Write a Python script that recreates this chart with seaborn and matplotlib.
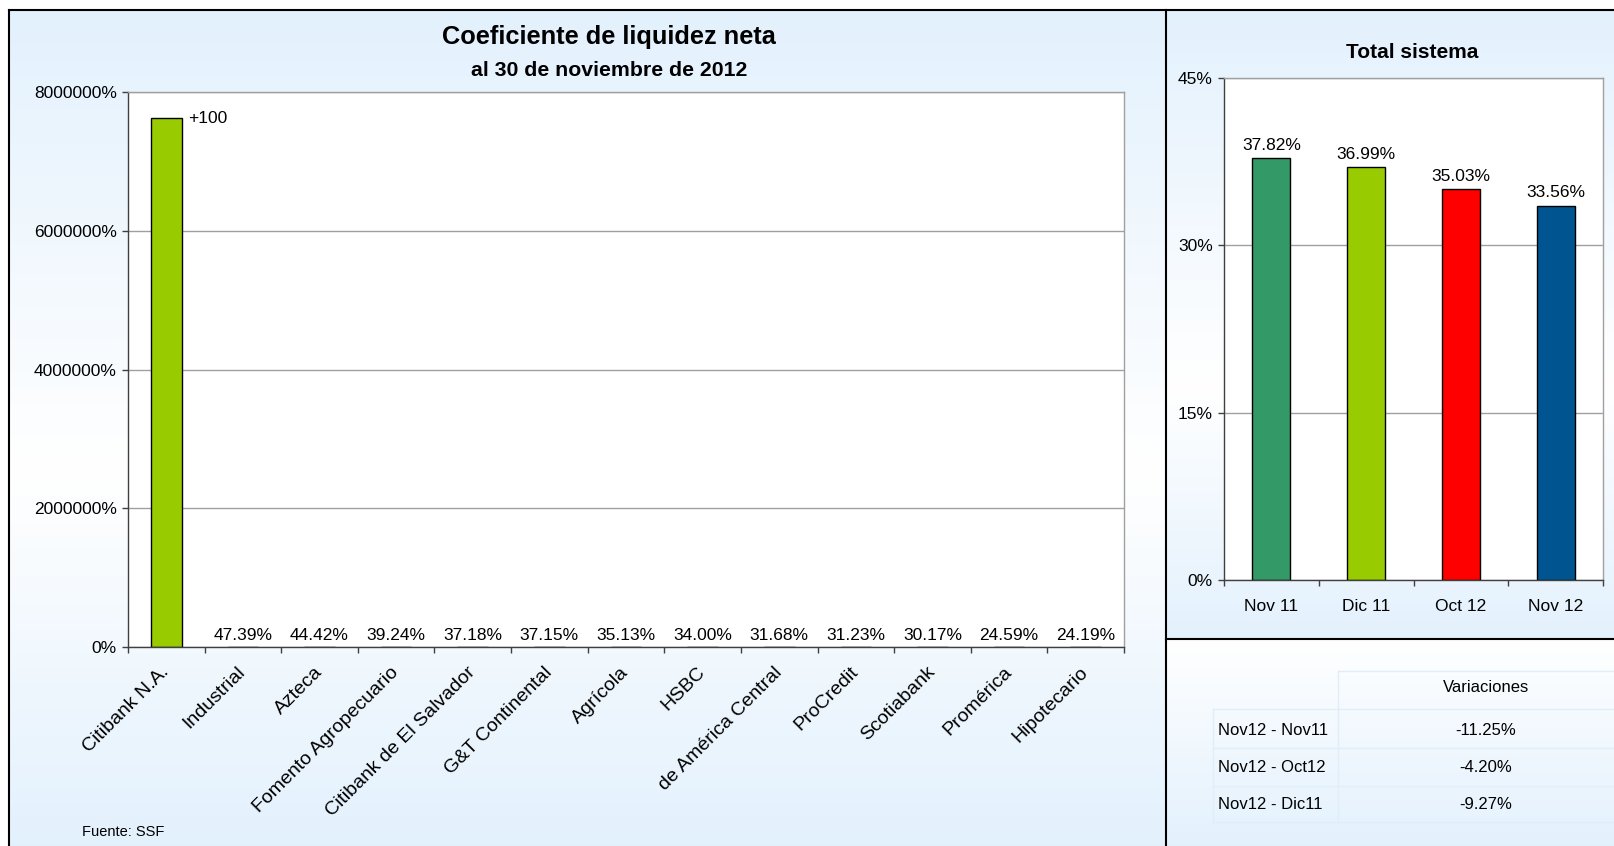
import matplotlib
matplotlib.use('Agg')
import matplotlib.pyplot as plt
import matplotlib.transforms as mtransforms
import seaborn as sns
import pandas as pd
import numpy as np

# data
banks = ['Citibank N.A.', 'Industrial', 'Azteca', 'Fomento Agropecuario',
         'Citibank de El Salvador', 'G&T Continental', 'Agrícola', 'HSBC',
         'de América Central', 'ProCredit', 'Scotiabank', 'Promérica', 'Hipotecario']
coef = [7625000.0, 47.39, 44.42, 39.24, 37.18, 37.15, 35.13, 34.00,
        31.68, 31.23, 30.17, 24.59, 24.19]
coef_labels = ['+100', '47.39%', '44.42%', '39.24%', '37.18%', '37.15%', '35.13%',
               '34.00%', '31.68%', '31.23%', '30.17%', '24.59%', '24.19%']

periods = ['Nov 11', 'Dic 11', 'Oct 12', 'Nov 12']
total = [37.82, 36.99, 35.03, 33.56]
period_colors = ['#339966', '#99CC00', '#FF0000', '#005591']

var_names = ['Nov12 - Nov11', 'Nov12 - Oct12', 'Nov12 - Dic11']
var_values = ['-11.25%', '-4.20%', '-9.27%']

plt.rcParams['font.family'] = ['Liberation Sans', 'DejaVu Sans']

W, H = 1614, 846
fig = plt.figure(figsize=(W / 100, H / 100), dpi=100)

# background panels with gradients (pixel coordinates)
bg = fig.add_axes([0, 0, 1, 1], zorder=-5)
bg.set_xlim(0, W)
bg.set_ylim(H, 0)
bg.axis('off')

blue = np.array([0.890, 0.945, 0.992])
white = np.array([1.0, 1.0, 1.0])

def grad(pos, cols, n=300):
    t = np.linspace(0, 1, n)
    img = np.stack([np.interp(t, pos, [c[k] for c in cols]) for k in range(3)], axis=-1)
    return img[:, None, :]

bg.imshow(grad([0, 0.55, 1], [blue, white, blue]), extent=(9, 1166, 846, 10), aspect='auto')
bg.imshow(grad([0, 0.6, 1], [blue, white, blue]), extent=(1166, W, 639, 10), aspect='auto')
bg.imshow(grad([0, 1], [white, blue]), extent=(1166, W, 846, 639), aspect='auto')
bg.plot([9, W], [10, 10], color='black', lw=1.5)
bg.plot([9, 9], [10, H], color='black', lw=1.5)
bg.plot([1166, 1166], [10, H], color='black', lw=1.5)
bg.plot([1166, W], [639, 639], color='black', lw=1.5)

# table cell lines
cell = '#E0EEFA'
for y in [709, 748, 786, 822]:
    bg.plot([1213, W], [y, y], color=cell, lw=1)
bg.plot([1338, W], [671, 671], color=cell, lw=1)
bg.plot([1338, 1338], [671, 822], color=cell, lw=1)
bg.plot([1213, 1213], [709, 822], color=cell, lw=1)


def style_axes(ax):
    for s in ['left', 'bottom']:
        ax.spines[s].set_color('#404040')
    for s in ['top', 'right']:
        ax.spines[s].set_color('#A0A0A0')
    for s in ax.spines.values():
        s.set_linewidth(1)
    ax.set_facecolor('white')
    ax.grid(axis='y', color='#A0A0A0', lw=1)
    ax.set_axisbelow(True)
    ax.set_xlabel('')
    ax.set_ylabel('')
    ax.tick_params(axis='y', length=4, width=1, color='#404040', pad=4, labelsize=12.5)
    ax.tick_params(axis='x', which='major', length=0)
    ax.tick_params(axis='x', which='minor', length=4, width=1, color='#404040')


# left chart
df = pd.DataFrame({'banco': banks, 'coef': coef})
ax1 = fig.add_axes([128 / W, 1 - 647 / H, 996 / W, 555 / H])
sns.barplot(data=df, x='banco', y='coef', hue='banco', palette=['#99CC00'] * len(banks),
            saturation=1, width=0.4, edgecolor='black', linewidth=1, legend=False, ax=ax1)
style_axes(ax1)
ax1.set_xlim(-0.5, len(banks) - 0.5)
ax1.set_ylim(0, 8000000)
ax1.set_yticks([0, 2000000, 4000000, 6000000, 8000000])
ax1.set_yticklabels([f'{v:.0f}%' for v in ax1.get_yticks()])
ax1.set_xticks(np.arange(-0.5, len(banks), 1), minor=True)
ax1.set_xticks(range(len(banks)))
ax1.set_xticklabels(banks, rotation=45, ha='right', va='top',
                    rotation_mode='anchor', fontsize=14)
ax1.tick_params(axis='x', which='major', pad=12)
shift = mtransforms.ScaledTranslation(-6 / 100, 0, fig.dpi_scale_trans)
for lab in ax1.get_xticklabels():
    lab.set_transform(lab.get_transform() + shift)
for i, (v, lab) in enumerate(zip(coef, coef_labels)):
    if i == 0:
        ax1.annotate(lab, (i + 0.2, v), xytext=(5, 0), textcoords='offset points',
                     ha='left', va='center', fontsize=12.5)
    else:
        ax1.annotate(lab, (i, v), xytext=(0, 5), textcoords='offset points',
                     ha='center', va='baseline', fontsize=12.5)

fig.text(609 / W, 1 - 37 / H, 'Coeficiente de liquidez neta', ha='center', va='center',
         fontsize=18.3, fontweight='bold')
fig.text(609 / W, 1 - 70 / H, 'al 30 de noviembre de 2012', ha='center', va='center',
         fontsize=15.3, fontweight='bold')
fig.text(82 / W, 1 - 832 / H, 'Fuente: SSF', ha='left', va='center', fontsize=10.5)

# right chart
dt = pd.DataFrame({'periodo': periods, 'total': total})
ax2 = fig.add_axes([1224 / W, 1 - 580 / H, 379 / W, 502 / H])
sns.barplot(data=dt, x='periodo', y='total', hue='periodo', palette=period_colors,
            saturation=1, width=0.4, edgecolor='black', linewidth=1, legend=False, ax=ax2)
style_axes(ax2)
ax2.set_xlim(-0.5, len(periods) - 0.5)
ax2.set_ylim(0, 45)
ax2.set_yticks([0, 15, 30, 45])
ax2.set_yticklabels([f'{v:.0f}%' for v in ax2.get_yticks()])
ax2.set_xticks(np.arange(-0.5, len(periods), 1), minor=True)
ax2.set_xticks(range(len(periods)))
ax2.set_xticklabels(periods, fontsize=12.5)
ax2.tick_params(axis='x', which='major', pad=14)
for i, v in enumerate(total):
    ax2.annotate(f'{v:.2f}%', (i, v), xytext=(0, 6), textcoords='offset points',
                 ha='center', va='baseline', fontsize=12.5)
fig.text(1412 / W, 1 - 53 / H, 'Total sistema', ha='center', va='center',
         fontsize=15, fontweight='bold')

# variations table
fig.text(1486 / W, 1 - 688 / H, 'Variaciones', ha='center', va='center', fontsize=12)
for k, (name, val) in enumerate(zip(var_names, var_values)):
    y = 1 - (730 + 37 * k) / H
    fig.text(1218 / W, y, name, ha='left', va='center', fontsize=12)
    fig.text(1486 / W, y, val, ha='center', va='center', fontsize=12)

fig.savefig('out.png', dpi=100, facecolor='white')
